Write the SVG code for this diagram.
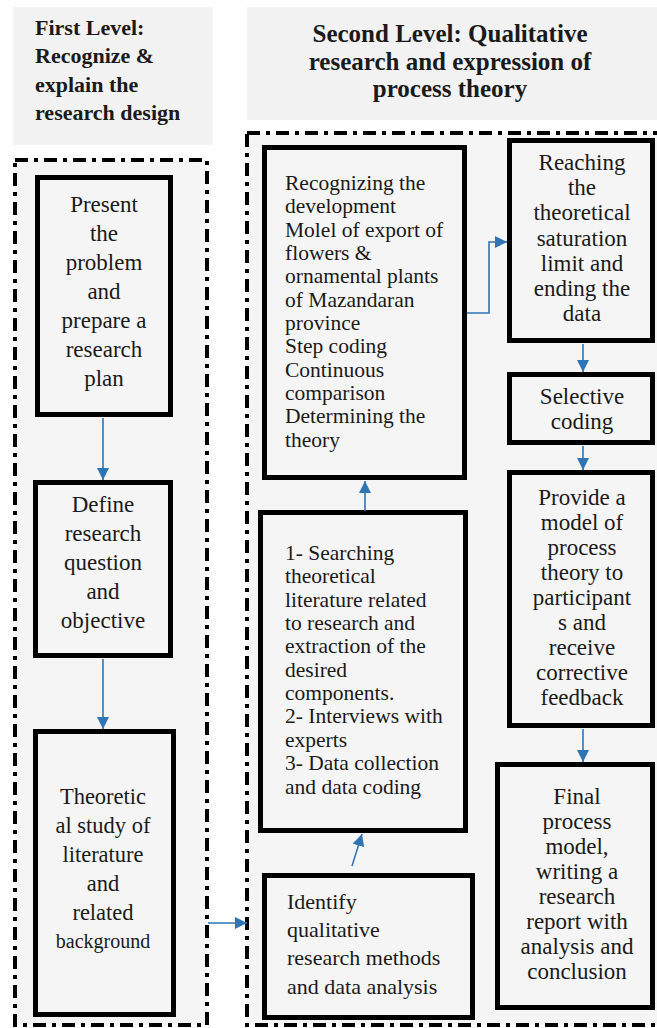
<svg xmlns="http://www.w3.org/2000/svg" width="657" height="1028" viewBox="0 0 657 1028">
<style>
.hdr{fill:#f2f2f2;stroke:none}
.panel{fill:#f5f5f5;stroke:#000;stroke-width:4;stroke-dasharray:13 6 4 6}
.box{fill:#f5f5f5;stroke:#000;stroke-width:5}
.ht{font-family:"Liberation Serif","Times New Roman",serif;font-weight:bold;fill:#1a1a1a}
.t{font-family:"Liberation Serif","Times New Roman",serif;fill:#1a1a1a}
.c{text-anchor:middle}
.conn{fill:none;stroke:#2e75b6;stroke-width:1.6}
</style>
<defs>
<marker id="ah" markerUnits="userSpaceOnUse" markerWidth="12" markerHeight="12" refX="12" refY="6" orient="auto">
<path d="M0,0 L12,6 L0,12 z" fill="#2e75b6"/>
</marker>
</defs>
<rect width="657" height="1028" fill="#ffffff"/>

<g id="header-first">
<rect class="hdr" x="13" y="7" width="200" height="138"/>
<text class="ht" font-size="22" x="35"><tspan x="35" y="35">First Level:</tspan><tspan x="35" y="63">Recognize &amp;</tspan><tspan x="35" y="92">explain the</tspan><tspan x="35" y="120">research design</tspan></text>
</g>
<g id="header-second">
<rect class="hdr" x="247" y="7" width="410" height="113"/>
<text class="ht c" font-size="25"><tspan x="450" y="42">Second Level: Qualitative</tspan><tspan x="450" y="70">research and expression of</tspan><tspan x="450" y="97">process theory</tspan></text>
</g>

<g id="panel-first"><rect class="panel" x="15" y="160" width="192" height="865"/></g>
<g id="panel-second"><rect class="panel" x="247" y="133" width="420" height="892"/></g>

<g id="n1">
<rect class="box" x="37.5" y="177.5" width="133" height="237"/>
<text class="t c" font-size="23"><tspan x="104" y="212">Present</tspan><tspan x="104" y="241">the</tspan><tspan x="104" y="270">problem</tspan><tspan x="104" y="299">and</tspan><tspan x="104" y="328">prepare a</tspan><tspan x="104" y="357">research</tspan><tspan x="104" y="386">plan</tspan></text>
</g>
<g id="n2">
<rect class="box" x="35.5" y="482.5" width="135" height="173"/>
<text class="t c" font-size="23"><tspan x="103" y="512">Define</tspan><tspan x="103" y="541">research</tspan><tspan x="103" y="570">question</tspan><tspan x="103" y="599">and</tspan><tspan x="103" y="628">objective</tspan></text>
</g>
<g id="n3">
<rect class="box" x="35.5" y="731.5" width="138" height="283"/>
<text class="t c" font-size="22.5"><tspan x="103" y="804">Theoretic</tspan><tspan x="103" y="833">al study of</tspan><tspan x="103" y="862">literature</tspan><tspan x="103" y="891">and</tspan><tspan x="103" y="920">related</tspan><tspan x="103" y="948" font-size="20">background</tspan></text>
</g>
<g id="n4">
<rect class="box" x="264.5" y="147.5" width="200" height="330"/>
<text class="t" font-size="21.5"><tspan x="285" y="190">Recognizing the</tspan><tspan x="285" y="213">development</tspan><tspan x="285" y="237">Molel of export of</tspan><tspan x="285" y="260">flowers &amp;</tspan><tspan x="285" y="283">ornamental plants</tspan><tspan x="285" y="307">of Mazandaran</tspan><tspan x="285" y="330">province</tspan><tspan x="285" y="353">Step coding</tspan><tspan x="285" y="377">Continuous</tspan><tspan x="285" y="400">comparison</tspan><tspan x="285" y="423">Determining the</tspan><tspan x="285" y="447">theory</tspan></text>
</g>
<g id="n5">
<rect class="box" x="260.5" y="512.5" width="205" height="318"/>
<text class="t" font-size="21.5"><tspan x="285" y="560">1- Searching</tspan><tspan x="285" y="583">theoretical</tspan><tspan x="285" y="607">literature related</tspan><tspan x="285" y="630">to research and</tspan><tspan x="285" y="653">extraction of the</tspan><tspan x="285" y="677">desired</tspan><tspan x="285" y="700">components.</tspan><tspan x="285" y="723">2- Interviews with</tspan><tspan x="285" y="747">experts</tspan><tspan x="285" y="770">3- Data collection</tspan><tspan x="285" y="794">and data coding</tspan></text>
</g>
<g id="n6">
<rect class="box" x="264.5" y="875.5" width="208" height="142"/>
<text class="t" font-size="22"><tspan x="287" y="909">Identify</tspan><tspan x="287" y="937">qualitative</tspan><tspan x="287" y="965">research methods</tspan><tspan x="287" y="994">and data analysis</tspan></text>
</g>
<g id="n7">
<rect class="box" x="509.5" y="140.5" width="143" height="200"/>
<text class="t c" font-size="23"><tspan x="582" y="170">Reaching</tspan><tspan x="582" y="195">the</tspan><tspan x="582" y="220">theoretical</tspan><tspan x="582" y="246">saturation</tspan><tspan x="582" y="271">limit and</tspan><tspan x="582" y="296">ending the</tspan><tspan x="582" y="321">data</tspan></text>
</g>
<g id="n8">
<rect class="box" x="509.5" y="374.5" width="143" height="68"/>
<text class="t c" font-size="23"><tspan x="582" y="404">Selective</tspan><tspan x="582" y="429">coding</tspan></text>
</g>
<g id="n9">
<rect class="box" x="509.5" y="472.5" width="143" height="253"/>
<text class="t c" font-size="23"><tspan x="582" y="505">Provide a</tspan><tspan x="582" y="530">model of</tspan><tspan x="582" y="555">process</tspan><tspan x="582" y="580">theory to</tspan><tspan x="582" y="605">participant</tspan><tspan x="582" y="630">s and</tspan><tspan x="582" y="655">receive</tspan><tspan x="582" y="680">corrective</tspan><tspan x="582" y="705">feedback</tspan></text>
</g>
<g id="n10">
<rect class="box" x="497.5" y="764.5" width="155" height="243"/>
<text class="t c" font-size="23"><tspan x="577" y="804">Final</tspan><tspan x="577" y="829">process</tspan><tspan x="577" y="854">model,</tspan><tspan x="577" y="879">writing a</tspan><tspan x="577" y="904">research</tspan><tspan x="577" y="929">report with</tspan><tspan x="577" y="954">analysis and</tspan><tspan x="577" y="979">conclusion</tspan></text>
</g>

<g id="connectors">
<line class="conn" x1="103" y1="418" x2="103" y2="480" marker-end="url(#ah)"/>
<line class="conn" x1="103" y1="659" x2="103" y2="729" marker-end="url(#ah)"/>
<line class="conn" x1="208" y1="923" x2="247" y2="923" marker-end="url(#ah)"/>
<line class="conn" x1="365" y1="511" x2="365" y2="481" marker-end="url(#ah)"/>
<line class="conn" x1="352" y1="866" x2="362" y2="834" marker-end="url(#ah)"/>
<polyline class="conn" points="467,313 489,313 489,242 507,242" marker-end="url(#ah)"/>
<line class="conn" x1="583" y1="344" x2="583" y2="372" marker-end="url(#ah)"/>
<line class="conn" x1="583" y1="446" x2="583" y2="470" marker-end="url(#ah)"/>
<line class="conn" x1="583" y1="729" x2="583" y2="762" marker-end="url(#ah)"/>
</g>
</svg>
